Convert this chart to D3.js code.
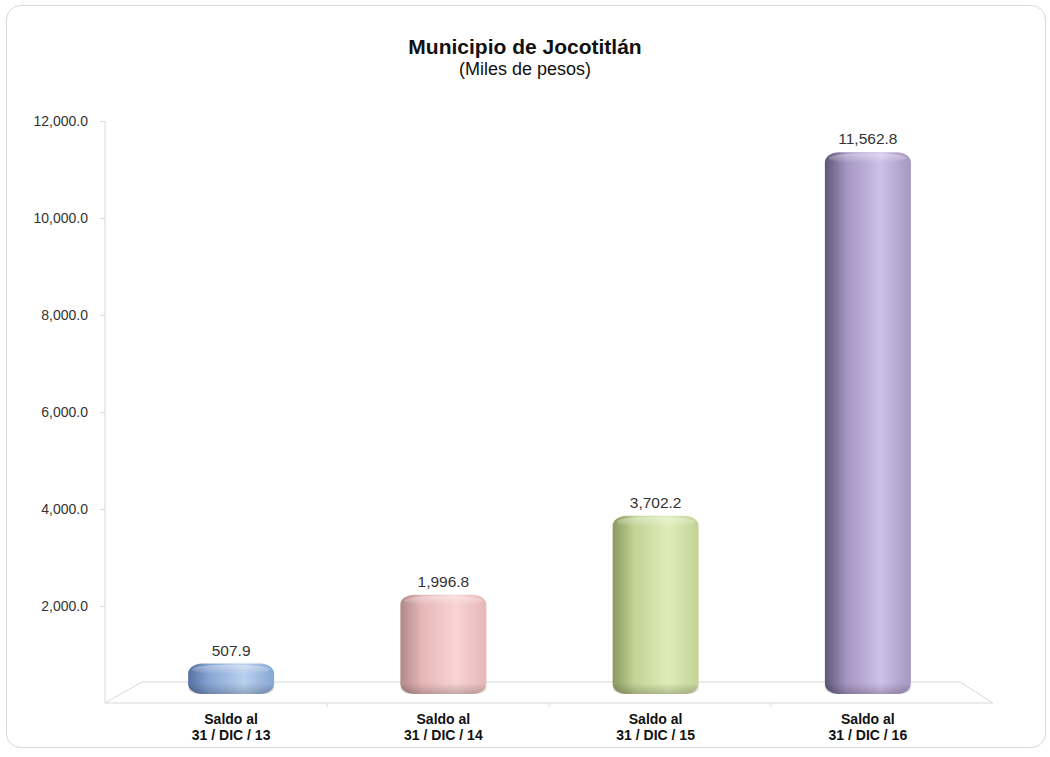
<!DOCTYPE html>
<html>
<head>
<meta charset="utf-8">
<script src="https://cdn.jsdelivr.net/npm/d3@7"></script>
<style>
  body { margin: 0; background: #ffffff; }
  svg { display: block; font-family: "Liberation Sans", Arial, sans-serif; }
</style>
</head>
<body>
<script>
// Data
const categories = ["Saldo al|31 / DIC / 13", "Saldo al|31 / DIC / 14", "Saldo al|31 / DIC / 15", "Saldo al|31 / DIC / 16"];
const values = [507.9, 1996.8, 3702.2, 11562.8];
const yTicks = [2000, 4000, 6000, 8000, 10000, 12000];
// bar colours: dark edge, mid, light highlight
const barColors = [
  ["#56719f", "#87a6d4", "#b9cfee"],
  ["#b08888", "#e6b7b7", "#f8d3d3"],
  ["#8a995e", "#c2d396", "#dfecb8"],
  ["#5e5675", "#a595c2", "#cec0e7"]
];

const W = 1050, H = 757;
const svg = d3.select("body").append("svg").attr("width", W).attr("height", H);

// outer frame
svg.append("rect")
  .attr("x", 6.5).attr("y", 5.5).attr("width", 1039).attr("height", 742)
  .attr("rx", 14).attr("fill", "#fff").attr("stroke", "#d9d9d9");

// Title
svg.append("text").attr("x", 525).attr("y", 54).attr("text-anchor", "middle")
  .attr("font-size", "21px").attr("font-weight", "bold").attr("fill", "#111")
  .text("Municipio de Jocotitlán");
svg.append("text").attr("x", 525).attr("y", 75).attr("text-anchor", "middle")
  .attr("font-size", "18px").attr("fill", "#111")
  .text("(Miles de pesos)");

// Scales
const y = d3.scaleLinear().domain([0, 12000]).range([703, 121]);
const yBar = d3.scaleLinear().domain([0, 12000]).range([692, 137]);
const xFront = d3.scaleBand().domain(categories).range([105, 993]);
const xBack = d3.scaleBand().domain(categories).range([142, 960]);
const xBar = d3.scaleBand().domain(categories).range([125, 974])
  .paddingInner(0.595).paddingOuter(0.2975);

const gridColor = "#d9d9d9";

// Floor (3D base)
const floor = svg.append("g").attr("stroke", gridColor).attr("fill", "none");
floor.append("path")
  .attr("d", `M${xFront.range()[0]},${y(0)} L${xBack.range()[0]},${y(0) - 21} L${xBack.range()[1]},${y(0) - 21} L${xFront.range()[1]},${y(0)}`);

// Y axis
const yAxis = svg.append("g")
  .attr("transform", "translate(105,0)")
  .call(d3.axisLeft(y).tickValues(yTicks).tickFormat(d3.format(",.1f")).tickSize(5).tickPadding(12));
yAxis.select(".domain").attr("stroke", gridColor).attr("d", `M0,${y(12000)}V${y(0)}`);
yAxis.selectAll(".tick line").attr("stroke", gridColor);
yAxis.selectAll("text").attr("font-size", "14px").attr("fill", "#333")
  .attr("font-family", "Liberation Sans, Arial, sans-serif");

// X axis (front edge)
const xAxis = svg.append("g")
  .attr("transform", `translate(0,${y(0)})`);
xAxis.append("line").attr("x1", 105).attr("x2", 993).attr("stroke", gridColor);
xAxis.selectAll(".xt")
  .data(categories.slice(1))
  .enter().append("line")
  .attr("class", "xt")
  .attr("x1", d => xFront(d)).attr("x2", d => xFront(d))
  .attr("y1", 0).attr("y2", 4)
  .attr("stroke", gridColor);

// Gradients
const defs = svg.append("defs");
barColors.forEach((c, i) => {
  const g = defs.append("linearGradient").attr("id", "cyl" + i)
    .attr("x1", "0%").attr("x2", "100%").attr("y1", "0%").attr("y2", "0%");
  g.append("stop").attr("offset", "0%").attr("stop-color", c[0]);
  g.append("stop").attr("offset", "25%").attr("stop-color", c[1]);
  g.append("stop").attr("offset", "65%").attr("stop-color", c[2]);
  g.append("stop").attr("offset", "100%").attr("stop-color", c[1]);
});
const shadeTop = defs.append("linearGradient").attr("id", "shadeTop")
  .attr("x1", "0%").attr("x2", "0%").attr("y1", "0%").attr("y2", "100%");
shadeTop.append("stop").attr("offset", "0%").attr("stop-color", "#fff").attr("stop-opacity", 0.4);
shadeTop.append("stop").attr("offset", "100%").attr("stop-color", "#fff").attr("stop-opacity", 0);
const shadeBot = defs.append("linearGradient").attr("id", "shadeBot")
  .attr("x1", "0%").attr("x2", "0%").attr("y1", "0%").attr("y2", "100%");
shadeBot.append("stop").attr("offset", "0%").attr("stop-color", "#000").attr("stop-opacity", 0);
shadeBot.append("stop").attr("offset", "100%").attr("stop-color", "#000").attr("stop-opacity", 0.2);

// Bars (cylinders)
const bars = svg.selectAll(".bar")
  .data(categories.map((c, i) => ({ cat: c, v: values[i], i })))
  .enter().append("g").attr("class", "bar");

const r = 14;
bars.append("rect")
  .attr("x", d => xBar(d.cat))
  .attr("y", d => yBar(d.v) - 5)
  .attr("width", xBar.bandwidth())
  .attr("height", d => yBar(0) - yBar(d.v) + 7)
  .attr("rx", r).attr("ry", 10)
  .attr("fill", d => `url(#cyl${d.i})`);

// top highlight
bars.append("ellipse")
  .attr("cx", d => xBar(d.cat) + xBar.bandwidth() / 2)
  .attr("cy", d => yBar(d.v) + 1)
  .attr("rx", xBar.bandwidth() / 2 - 4)
  .attr("ry", 5)
  .attr("fill", "url(#shadeTop)");

// bottom shade
bars.append("rect")
  .attr("x", d => xBar(d.cat))
  .attr("y", d => Math.max(yBar(d.v) + 4, yBar(0) - 9))
  .attr("width", xBar.bandwidth())
  .attr("height", d => yBar(0) + 2 - Math.max(yBar(d.v) + 4, yBar(0) - 9))
  .attr("rx", r).attr("ry", 9)
  .attr("fill", "url(#shadeBot)");

// Value labels
bars.append("text")
  .attr("x", d => xBar(d.cat) + xBar.bandwidth() / 2)
  .attr("y", d => yBar(d.v) - 13)
  .attr("text-anchor", "middle")
  .attr("font-size", "15.5px").attr("fill", "#333")
  .text(d => d3.format(",.1f")(d.v));

// Category labels
const catLabels = svg.selectAll(".cat")
  .data(categories)
  .enter().append("text")
  .attr("class", "cat")
  .attr("text-anchor", "middle")
  .attr("font-size", "14px").attr("font-weight", "bold").attr("fill", "#111");
catLabels.each(function(d) {
  const parts = d.split("|");
  const cx = xBar(d) + xBar.bandwidth() / 2;
  parts.forEach((p, k) => {
    d3.select(this).append("tspan").attr("x", cx).attr("y", 724 + k * 16).text(p);
  });
});
</script>
</body>
</html>
